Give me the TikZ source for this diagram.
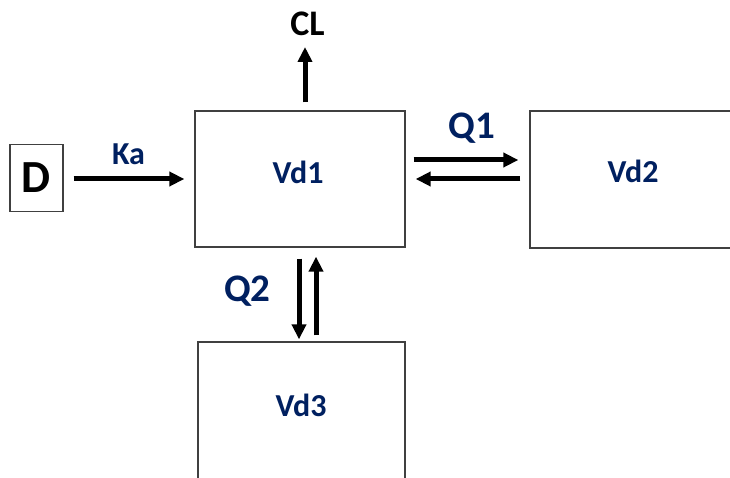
\documentclass[tikz,border=0pt]{standalone}
\usepackage{fontspec}
\setmainfont{Carlito}
\usetikzlibrary{arrows.meta}
\definecolor{navy}{HTML}{002060}
\definecolor{boxline}{HTML}{404040}
\begin{document}
\begin{tikzpicture}[x=1pt,y=-1pt,
  box/.style={draw=boxline, line width=1.3pt, inner sep=0pt, fill=white},
  flow/.style={draw=black, line width=5pt, -{Triangle[length=15pt,width=14pt]}},
  bluelbl/.style={anchor=base, inner sep=0pt, text=navy, font=\bfseries\fontsize{32}{35}\selectfont},
  qlbl/.style={anchor=base, inner sep=0pt, text=navy, font=\bfseries\fontsize{39}{42}\selectfont},
  blacklbl/.style={anchor=base, inner sep=0pt, text=black}]
\clip (0,0) rectangle (730,478);
\fill[white] (0,0) rectangle (730,478);
% boxes
\node[box, minimum width=53pt, minimum height=67pt] (D) at (36.5,178) {};
\node[box, minimum width=210pt, minimum height=136pt] (Vd1) at (300,179) {};
\node[box, minimum width=210pt, minimum height=137pt] (Vd2) at (635,179.5) {};
\node[box, minimum width=207pt, minimum height=150pt] (Vd3) at (301.5,417) {};
% texts
\node[blacklbl, font=\bfseries\fontsize{46}{50}\selectfont] (Dt) at (35.5,193) {D};
\node[blacklbl, font=\bfseries\fontsize{36}{40}\selectfont] (CL) at (307.5,36) {CL};
\node[bluelbl] (Vd1t) at (298,184) {Vd1};
\node[bluelbl] (Vd2t) at (633,183) {Vd2};
\node[bluelbl] (Vd3t) at (301,416) {Vd3};
\node[bluelbl] (Ka) at (128.5,165) {Ka};
\node[qlbl] (Q1) at (472,138.5) {Q1};
\node[qlbl] (Q2) at (247.5,301) {Q2};
% connectors
\coordinate (clend) at (305,47);
\draw[flow, shorten <=10pt, shorten >=10pt] ([yshift=-1pt]D.east) -- (Vd1.west);
\draw[flow, shorten <=8pt] ([xshift=5pt]Vd1.north) -- (clend);
\draw[flow, shorten <=8pt, shorten >=11pt] ([yshift=19pt]Vd1.east) -- ([yshift=19.5pt]Vd2.west);
\draw[flow, shorten <=9pt, shorten >=10pt] ([yshift=0.5pt]Vd2.west) -- (Vd1.east);
\draw[flow, shorten <=11pt, shorten >=2pt] ([xshift=-1pt]Vd1.south) -- ([xshift=-2.5pt]Vd3.north);
\draw[flow, shorten <=6pt, shorten >=9pt] ([xshift=14.5pt]Vd3.north) -- ([xshift=16pt]Vd1.south);
\end{tikzpicture}
\end{document}
